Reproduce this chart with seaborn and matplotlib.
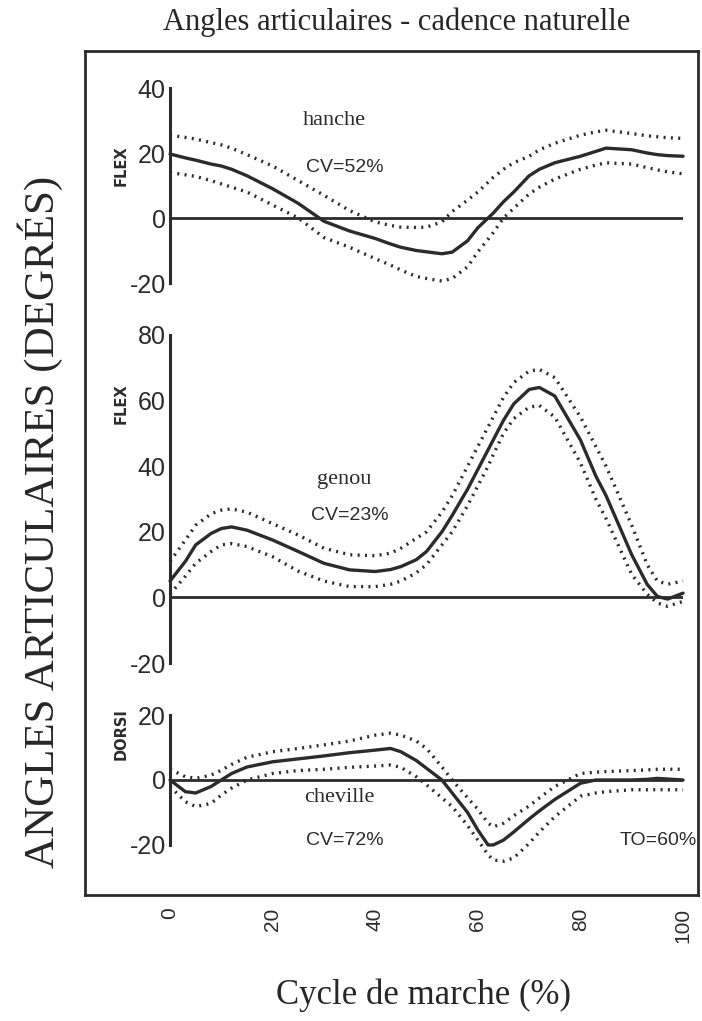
import numpy as np
import pandas as pd
import matplotlib
matplotlib.use("Agg")
import matplotlib.pyplot as plt
import seaborn as sns

# cycle de marche (%)
pct = [0, 3, 5, 8, 10, 12, 15, 20, 25, 30, 35, 40, 43, 45, 48, 50, 53, 55, 58, 60,
       62, 63, 65, 67, 70, 72, 75, 80, 83, 85, 90, 93, 95, 97, 100]

# hanche
hanche_moy = [19.7, 18.5, 17.8, 16.6, 16, 15, 13, 9, 4.5, -1, -4, -6.3, -8, -9, -10, -10.4, -11, -10.5, -7, -3,
              0, 1.5, 5, 8, 13, 15, 17, 19, 20.5, 21.5, 21, 20, 19.5, 19.2, 19]
hanche_sup = [25.5, 24.8, 24.3, 23.2, 22.5, 21.5, 19.5, 16, 11.5, 7, 2.3, -1.2, -2.3, -2.8, -2.9, -2.8, -1.2, 2, 5.5, 8,
              11, 12.5, 15, 17, 19, 21, 23, 25.5, 26.5, 27, 26, 25.3, 25, 24.7, 24.5]
hanche_inf = [14, 13.3, 12.8, 11.5, 10.5, 9.5, 8, 4, 0, -6, -9, -12.5, -14.5, -16, -18, -18.6, -19.4, -18.6, -15, -10.4,
              -6.5, -4.5, 0, 3, 7.4, 9.5, 12, 15, 16.3, 17, 16.6, 15.5, 14.8, 14.2, 13.6]

# genou
genou_moy = [5, 11, 16, 19.5, 21, 21.5, 20.5, 17.5, 14, 10.4, 8.4, 7.9, 8.5, 9.4, 11.5, 14, 20, 25, 33, 39,
             45, 48, 54, 59, 63.4, 64, 61.4, 48, 37, 31, 13, 4, 0.3, -0.5, 1.3]
genou_sup = [11, 17.5, 22, 25.5, 26.6, 27, 26, 22.5, 19, 15, 13, 12.7, 13.5, 15, 18, 20, 26, 31, 40, 46,
             52, 55, 61, 65.5, 69, 69.5, 67, 55, 46, 40, 22, 10, 5, 4, 5]
genou_inf = [1, 6.5, 10.4, 14, 16, 16.4, 15.5, 12.4, 8, 5, 3.3, 3.3, 4, 5, 7.5, 10, 16, 20, 28, 34,
             40, 43.5, 50, 54.5, 58, 58.5, 55, 41, 30, 24, 7, 1, -1.7, -2.7, -1.2]

# cheville
cheville_moy = [0, -3.6, -4, -2, 0, 2, 4, 5.6, 6.5, 7.4, 8.4, 9.2, 9.7, 8.7, 6, 3.6, 0, -4, -10, -15.4,
                -20, -20, -18.5, -16, -12, -9.5, -6, -1, 0, 0, 0, 0.2, 0.5, 0.3, 0]
cheville_sup = [3.3, 1, 0.5, 1.5, 3, 4.8, 7, 8.7, 9.7, 10.8, 12, 13.8, 14.4, 13.8, 12, 9.7, 4, 0, -5.5, -9,
                -13.3, -14.4, -13.3, -11, -8, -5.5, -2, 2, 2.4, 2.6, 2.9, 3.1, 3.3, 3.3, 3.3]
cheville_inf = [-2, -6.7, -8.2, -7.2, -4.6, -2.5, 0, 2, 2.9, 3.3, 3.9, 4.3, 4.6, 3.9, 1, -1.5, -5.5, -8.2, -14, -18.5,
                -23, -24.6, -25, -24, -19.5, -16, -11.3, -5, -4, -3.6, -3, -3, -3, -3, -3]

panneaux = [
    ("hanche", "CV=52%", "FLEX", 0.60, (-20, 40), [-20, 0, 20, 40], hanche_moy, hanche_sup, hanche_inf),
    ("genou", "CV=23%", "FLEX", 0.79, (-20, 80), [-20, 0, 20, 40, 60, 80], genou_moy, genou_sup, genou_inf),
    ("cheville", "CV=72%", "DORSI", 0.85, (-20, 20), [-20, 0, 20], cheville_moy, cheville_sup, cheville_inf),
]

sns.set_style("white")
plt.rcParams["font.family"] = ["Liberation Serif", "DejaVu Serif"]
etroit = ["Liberation Sans", "DejaVu Sans"]
encre = "#2b2b2b"

fig = plt.figure(figsize=(7.02, 10.21), dpi=100)

# cadre général + axe des x
cadre = fig.add_axes([0.1211, 0.1234, 0.8732, 0.8266])
cadre.set_xlim(-16.57, 102.92)
cadre.set_ylim(0, 1)
cadre.set_yticks([])
for s in cadre.spines.values():
    s.set_color(encre)
    s.set_linewidth(2)
cadre.set_xticks([0, 20, 40, 60, 80, 100])
cadre.set_xticks(np.arange(0, 101, 2), minor=True)
cadre.set_xticklabels(["0", "20", "40", "60", "80", "100"], rotation=90,
                      family=etroit, fontsize=15, color=encre)
cadre.tick_params(axis="x", which="major", direction="in", length=7, width=1.5, pad=9, color=encre)
cadre.tick_params(axis="x", which="minor", direction="in", length=4, width=1, color=encre)

positions = [
    [0.2422, 0.7228, 0.7308, 0.1910],
    [0.2422, 0.3506, 0.7308, 0.3213],
    [0.2422, 0.1724, 0.7308, 0.1273],
]

axes = []
for pos, (nom, cv, sens, ysens, ylim, yticks, moy, sup, inf) in zip(positions, panneaux):
    ax = fig.add_axes(pos)
    ax.patch.set_alpha(0)
    sns.lineplot(x=pct, y=moy, ax=ax, color=encre, lw=2.4, clip_on=False)
    sns.lineplot(x=pct, y=sup, ax=ax, color=encre, lw=2.4, linestyle=(0, (0.6, 1.6)), clip_on=False)
    sns.lineplot(x=pct, y=inf, ax=ax, color=encre, lw=2.4, linestyle=(0, (0.6, 1.6)), clip_on=False)
    ax.axhline(0, color=encre, lw=2)
    ax.set_xlim(0, 100)
    ax.set_ylim(*ylim)
    ax.set_xticks([])
    ax.set_yticks(yticks)
    ax.set_yticklabels([str(t) for t in yticks], family=etroit, fontsize=18, color=encre)
    ax.set_yticks(list(ylim), minor=True)
    ax.tick_params(axis="y", which="major", length=0, pad=3)
    ax.tick_params(axis="y", which="minor", direction="in", length=5, width=1.5, color=encre)
    for k in ["top", "right", "bottom"]:
        ax.spines[k].set_visible(False)
    ax.spines["left"].set_linewidth(2.2)
    ax.spines["left"].set_color(encre)
    ax.text(-0.095, ysens, sens, transform=ax.transAxes, rotation=90,
            ha="center", va="center", family=["DejaVu Sans"], fontweight="bold", fontsize=10.5, color=encre)
    axes.append(ax)

ax1, ax2, ax3 = axes
ax1.text(32, 30, "hanche", ha="center", va="center", fontsize=16, color=encre)
ax1.text(34, 15.5, "CV=52%", ha="center", va="center", family=etroit, fontsize=14, color=encre)
ax2.text(34, 36, "genou", ha="center", va="center", fontsize=16, color=encre)
ax2.text(35, 25, "CV=23%", ha="center", va="center", family=etroit, fontsize=14, color=encre)
ax3.text(33, -5.5, "cheville", ha="center", va="center", fontsize=16, color=encre)
ax3.text(34, -18.5, "CV=72%", ha="center", va="center", family=etroit, fontsize=14, color=encre)
ax3.text(102.6, -18.5, "TO=60%", ha="right", va="center", family=etroit, fontsize=14, color=encre)

fig.text(0.5655, 0.978, "Angles articulaires - cadence naturelle", ha="center", va="center", fontsize=22)
fig.text(0.057, 0.489, "ANGLES ARTICULAIRES (DEGRÉS)", ha="center", va="center", rotation=90, fontsize=31)
fig.text(0.6026, 0.0255, "Cycle de marche (%)", ha="center", va="center", fontsize=25)

fig.savefig("out.png", dpi=100, facecolor="white")
